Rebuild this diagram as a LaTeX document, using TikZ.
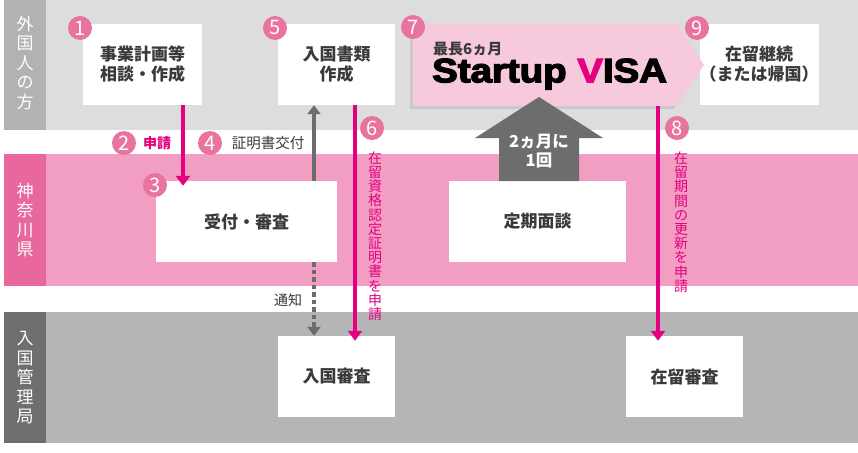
\documentclass[tikz,border=0pt]{standalone}
\usepackage{fontspec}
\usepackage{graphicx}
\setmainfont{Noto Sans CJK JP}
\newfontfamily\visafont[FakeBold=3.5]{Liberation Sans Bold}
\usetikzlibrary{arrows.meta}
\definecolor{topband}{HTML}{DDDDDD}
\definecolor{toplab}{HTML}{B2B2B2}
\definecolor{pinkband}{HTML}{F19EC2}
\definecolor{pinklab}{HTML}{E8679D}
\definecolor{botband}{HTML}{B5B5B5}
\definecolor{botlab}{HTML}{6F6F6F}
\definecolor{numpink}{HTML}{E9739F}
\definecolor{mag}{HTML}{E4007F}
\definecolor{visapink}{HTML}{F7C9DC}
\definecolor{darrow}{HTML}{6D6D6D}
\definecolor{txt}{HTML}{3A3A3A}
\tikzset{
  box/.style={fill=white, inner sep=0pt, minimum height=81pt, text=txt, align=center,
    font=\fontsize{17}{20}\selectfont\bfseries},
  num/.style={circle, fill=numpink, inner sep=0pt, minimum size=24pt, text=white,
    font=\fontsize{20}{20}\selectfont},
  lanelab/.style={text=white, align=center, inner sep=0pt,
    font=\fontsize{17}{19.5}\selectfont},
  magline/.style={draw=mag, line width=4.5pt, -{Triangle[width=14pt,length=10pt]}},
  greyline/.style={draw=darrow, line width=4pt, -{Triangle[width=13pt,length=9pt]}},
  vtext/.style={text=mag, align=center, inner sep=0pt, font=\fontsize{14}{14.2}\selectfont},
}
\begin{document}
\begin{tikzpicture}[x=1pt,y=-1pt]
\useasboundingbox[fill=white] (0,0) rectangle (858,452);
% lanes
\fill[topband] (4,0) rectangle (858,130);
\fill[toplab] (4,0) rectangle (46,130);
\fill[pinkband] (4,154) rectangle (858,286);
\fill[pinklab] (4,154) rectangle (46,286);
\fill[botband] (4,312) rectangle (858,443);
\fill[botlab] (4,312) rectangle (46,443);
\node[lanelab] (lab1) at (25,63) {外\\国\\人\\の\\方};
\node[lanelab] (lab2) at (25,220) {神\\奈\\川\\県};
\node[lanelab] (lab3) at (25,378) {入\\国\\管\\理\\局};

% boxes
\node[box, minimum width=119pt] (b1) at (142.5,64.5) {事業計画等\\相談・作成};
\node[box, minimum width=117pt] (b5) at (336.5,64.5) {入国書類\\作成};
\node[box, minimum width=118pt] (b9) at (759,64.5) {在留継続\\（または帰国）};
\node[box, minimum width=181pt] (b3) at (246.5,221.5) {受付・審査};
\node[box, minimum width=177pt] (bt) at (537.5,221.5) {定期面談};
\node[box, minimum width=117pt] (bn) at (336.5,376.5) {入国審査};
\node[box, minimum width=117pt] (bz) at (684.5,376.5) {在留審査};

% visa pentagon
\fill[black!30, opacity=0.45] (410,27) -- (674,27) -- (701,68) -- (674,109) -- (410,109) -- cycle;
\fill[visapink] (413,24) -- (677,24) -- (704,65) -- (677,106) -- (413,106) -- cycle;
\coordinate (visabot) at (658,106);
\node[anchor=west, inner sep=0pt, text=txt, font=\fontsize{15}{15}\selectfont\bfseries] (v1) at (433,49) {最長6ヵ月};
\node[anchor=west, inner sep=0pt, text=black] (v2) at (432,74)
  {\scalebox{1.13}[1]{\visafont\fontsize{34}{34}\selectfont Startup \textcolor{mag}{V}ISA}};

% grey up arrow
\fill[darrow] (499,181) -- (499,138) -- (475,138) -- (539,97) -- (603,138) -- (579,138) -- (579,181) -- cycle;
\node[align=center, text=white, inner sep=0pt, font=\fontsize{16.5}{19}\selectfont\bfseries] (g1) at (539,151) {2ヵ月に\\1回};

% coordinates for vertical connectors
\coordinate (x2) at (183,0);
\coordinate (x4) at (314,0);
\coordinate (x6) at (355,0);
\coordinate (x8) at (658,0);

% connectors
\draw[magline, shorten >=-5pt] (b1.south -| x2) -- (b3.north -| x2);
\draw[greyline] (b3.north -| x4) -- (b5.south -| x4);
\draw[greyline, dash pattern=on 4.5pt off 3pt] (b3.south -| x4) -- (bn.north -| x4);
\draw[magline, shorten >=-5pt] (b5.south -| x6) -- (bn.north -| x6);
\draw[magline, shorten >=-5pt] (visabot) -- (bz.north -| x8);

% labels
\node[text=mag, inner sep=0pt, font=\fontsize{14}{14}\selectfont\bfseries] (t2) at (157,143) {申請};
\node[text=txt, inner sep=0pt, font=\fontsize{14.5}{14.5}\selectfont] (t4) at (268,143) {証明書交付};
\node[text=txt, inner sep=0pt, font=\fontsize{14}{14}\selectfont] (tt) at (288,300) {通知};
\node[vtext] (t6) at (375,236) {在\\留\\資\\格\\認\\定\\証\\明\\書\\を\\申\\請};
\node[vtext] (t8) at (681,222) {在\\留\\期\\間\\の\\更\\新\\を\\申\\請};

% numbers
\node[num] (n1) at (80,28) {1};
\node[num] (n5) at (275,28) {5};
\node[num] (n7) at (413,27) {7};
\node[num] (n9) at (697,28) {9};
\node[num] (n6) at (372,128) {6};
\node[num] (n8) at (677,128) {8};
\node[num] (n2) at (124,143) {2};
\node[num] (n4) at (210,143) {4};
\node[num] (n3) at (155,185) {3};
\end{tikzpicture}
\end{document}
